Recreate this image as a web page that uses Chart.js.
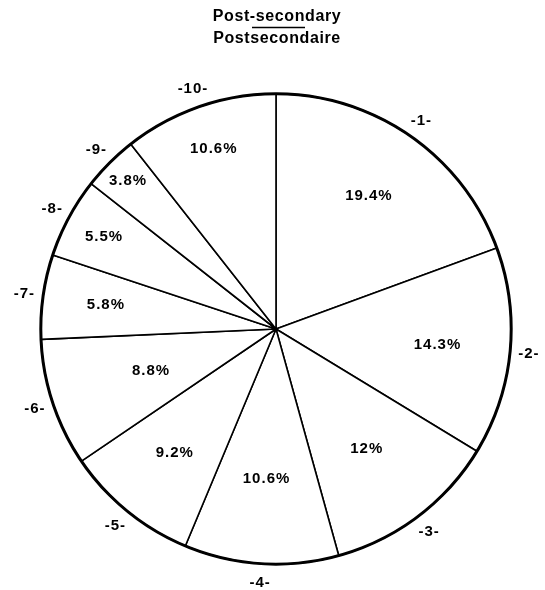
<!DOCTYPE html>
<html>
<head>
<meta charset="utf-8">
<script src="https://cdn.jsdelivr.net/npm/chart.js@4"></script>
<style>
  html, body { margin: 0; padding: 0; background: #fff; }
  #wrap { width: 545px; height: 590px; }
</style>
</head>
<body>
<div id="wrap"><canvas id="c" width="545" height="590"></canvas></div>
<script>
const titleLines = ['Post-secondary', 'Postsecondaire'];
const categories = ['-1-', '-2-', '-3-', '-4-', '-5-', '-6-', '-7-', '-8-', '-9-', '-10-'];
const values = [19.4, 14.3, 12, 10.6, 9.2, 8.8, 5.8, 5.5, 3.8, 10.6];
const valueLabels = ['19.4%', '14.3%', '12%', '10.6%', '9.2%', '8.8%', '5.8%', '5.5%', '3.8%', '10.6%'];

// styling: radial placement (fraction of radius) for the inside labels
const innerLabelRadius = [0.69, 0.69, 0.64, 0.64, 0.68, 0.56, 0.73, 0.83, 0.89, 0.81];
const outerLabelRadius = 1.08;

const FONT = '"Liberation Sans", Arial, Helvetica, sans-serif';

const labelsPlugin = {
  id: 'pieLabels',
  afterDraw(chart) {
    const ctx = chart.ctx;
    const meta = chart.getDatasetMeta(0);
    ctx.save();
    // thick outer circle
    const a0 = meta.data[0];
    ctx.beginPath();
    ctx.arc(a0.x, a0.y, a0.outerRadius, 0, Math.PI * 2);
    ctx.lineWidth = 3;
    ctx.strokeStyle = '#000';
    ctx.stroke();

    ctx.fillStyle = '#000';
    ctx.textAlign = 'center';
    ctx.textBaseline = 'middle';
    meta.data.forEach((arc, i) => {
      const mid = (arc.startAngle + arc.endAngle) / 2;
      const r = arc.outerRadius;
      ctx.font = 'bold 15px ' + FONT;
      ctx.letterSpacing = '1px';
      const ri = r * innerLabelRadius[i];
      ctx.fillText(valueLabels[i], arc.x + Math.cos(mid) * ri, arc.y + Math.sin(mid) * ri);
      const ro = r * outerLabelRadius;
      ctx.fillText(categories[i], arc.x + Math.cos(mid) * ro, arc.y + Math.sin(mid) * ro);
    });

    // title
    ctx.font = 'bold 16px ' + FONT;
    ctx.letterSpacing = '0.6px';
    ctx.fillText(titleLines[0], 277, 17);
    ctx.fillText(titleLines[1], 277, 39);
    ctx.beginPath();
    ctx.moveTo(252, 27.5);
    ctx.lineTo(305, 27.5);
    ctx.lineWidth = 1.5;
    ctx.stroke();
    ctx.restore();
  }
};

new Chart(document.getElementById('c'), {
  type: 'pie',
  data: {
    labels: categories,
    datasets: [{
      data: values,
      backgroundColor: '#ffffff',
      borderColor: '#000000',
      borderWidth: 1.6
    }]
  },
  options: {
    responsive: false,
    animation: false,
    layout: { padding: { top: 93, bottom: 25, left: 40, right: 33 } },
    plugins: {
      legend: { display: false },
      tooltip: { enabled: false },
      title: { display: false }
    }
  },
  plugins: [labelsPlugin]
});
</script>
</body>
</html>
